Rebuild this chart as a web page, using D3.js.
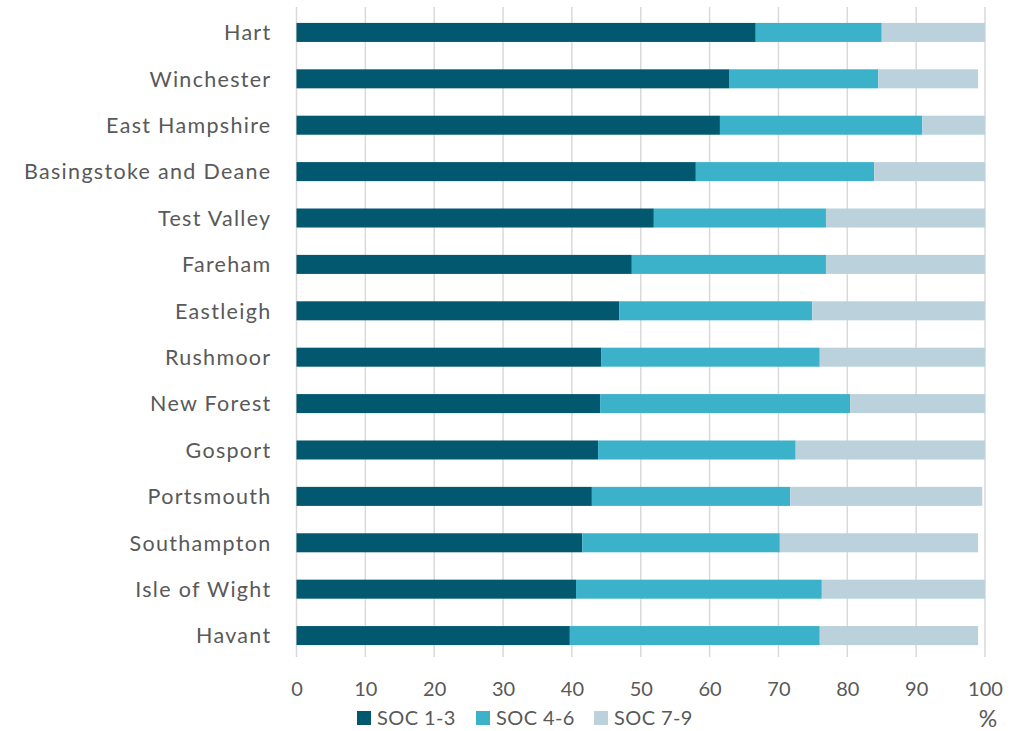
<!DOCTYPE html>
<html>
<head>
<meta charset="utf-8">
<script src="https://cdn.jsdelivr.net/npm/d3@7"></script>
<style>
  html, body { margin: 0; padding: 0; background: #fff; }
  svg { display: block; }
</style>
</head>
<body>
<svg id="chart" width="1023" height="731"></svg>
<script>
// Occupation group shares (%) by local authority
const areas = ["Hart", "Winchester", "East Hampshire", "Basingstoke and Deane", "Test Valley",
  "Fareham", "Eastleigh", "Rushmoor", "New Forest", "Gosport", "Portsmouth",
  "Southampton", "Isle of Wight", "Havant"];
const soc13 = [66.7, 62.9, 61.5, 58.0, 51.9, 48.7, 46.9, 44.3, 44.1, 43.8, 42.9, 41.5, 40.6, 39.7];
const soc46 = [18.3, 21.6, 29.4, 25.9, 25.0, 28.2, 28.0, 31.7, 36.3, 28.7, 28.8, 28.7, 35.7, 36.3];
const soc79 = [15.0, 14.5,  9.1, 16.1, 23.1, 23.1, 25.1, 24.0, 19.6, 27.5, 27.9, 28.8, 23.7, 23.0];
const seriesNames = ["SOC 1-3", "SOC 4-6", "SOC 7-9"];
const xTicks = [0, 10, 20, 30, 40, 50, 60, 70, 80, 90, 100];

const colors = ["#02586e", "#3bb1ca", "#bbd2dc"];
const font = "Lato, 'Open Sans', sans-serif";
const textColor = "#595959";

const svg = d3.select("#chart");
const plotLeft = 296.5, plotRight = 985, plotTop = 7, plotBottom = 657;

const rows = areas.map((a, i) => ({ area: a, "SOC 1-3": soc13[i], "SOC 4-6": soc46[i], "SOC 7-9": soc79[i] }));
const stacked = d3.stack().keys(seriesNames)(rows);

const x = d3.scaleLinear().domain([0, 100]).range([plotLeft, plotRight]);
const y = d3.scaleBand().domain(areas).range([plotTop + 2, plotBottom + 2]).paddingInner(0.59).paddingOuter(0.3);

// vertical gridlines
svg.append("g")
  .selectAll("line")
  .data(xTicks)
  .join("line")
  .attr("x1", d => x(d)).attr("x2", d => x(d))
  .attr("y1", plotTop).attr("y2", plotBottom)
  .attr("stroke", "#d9d9d9")
  .attr("stroke-width", 1.5);

// stacked bars
svg.append("g")
  .selectAll("g")
  .data(stacked)
  .join("g")
  .attr("fill", (d, i) => colors[i])
  .selectAll("rect")
  .data(d => d)
  .join("rect")
  .attr("x", d => x(d[0]))
  .attr("y", d => y(d.data.area))
  .attr("width", d => x(d[1]) - x(d[0]))
  .attr("height", y.bandwidth());

// x axis labels
const xAxis = d3.axisBottom(x).tickValues(xTicks).tickSize(0).tickPadding(0);
const gx = svg.append("g").attr("transform", `translate(0, ${plotBottom + 25})`).call(xAxis);
gx.select(".domain").remove();
gx.selectAll("text")
  .attr("font-family", font).attr("font-size", 20).attr("fill", textColor);

// category labels
const yAxis = d3.axisLeft(y).tickSize(0).tickPadding(25);
const gy = svg.append("g").attr("transform", `translate(${plotLeft}, 0)`).call(yAxis);
gy.select(".domain").remove();
gy.selectAll("text")
  .attr("font-family", font).attr("font-size", 21.5).attr("fill", textColor)
  .attr("letter-spacing", 1.3)
  .attr("dy", "0.36em");

// unit label
svg.append("text")
  .attr("x", 988).attr("y", 727)
  .attr("text-anchor", "middle")
  .attr("font-family", font).attr("font-size", 23).attr("fill", textColor)
  .text("%");

// legend
const legendX = [357, 476, 594];
const legend = svg.append("g")
  .selectAll("g")
  .data(seriesNames)
  .join("g")
  .attr("transform", (d, i) => `translate(${legendX[i]}, 711)`);
legend.append("rect")
  .attr("width", 14).attr("height", 14)
  .attr("fill", (d, i) => colors[i]);
legend.append("text")
  .attr("x", 20).attr("y", 7).attr("dy", "0.36em")
  .attr("font-family", font).attr("font-size", 20).attr("fill", textColor)
  .attr("letter-spacing", 0.4)
  .text(d => d);
</script>
</body>
</html>
